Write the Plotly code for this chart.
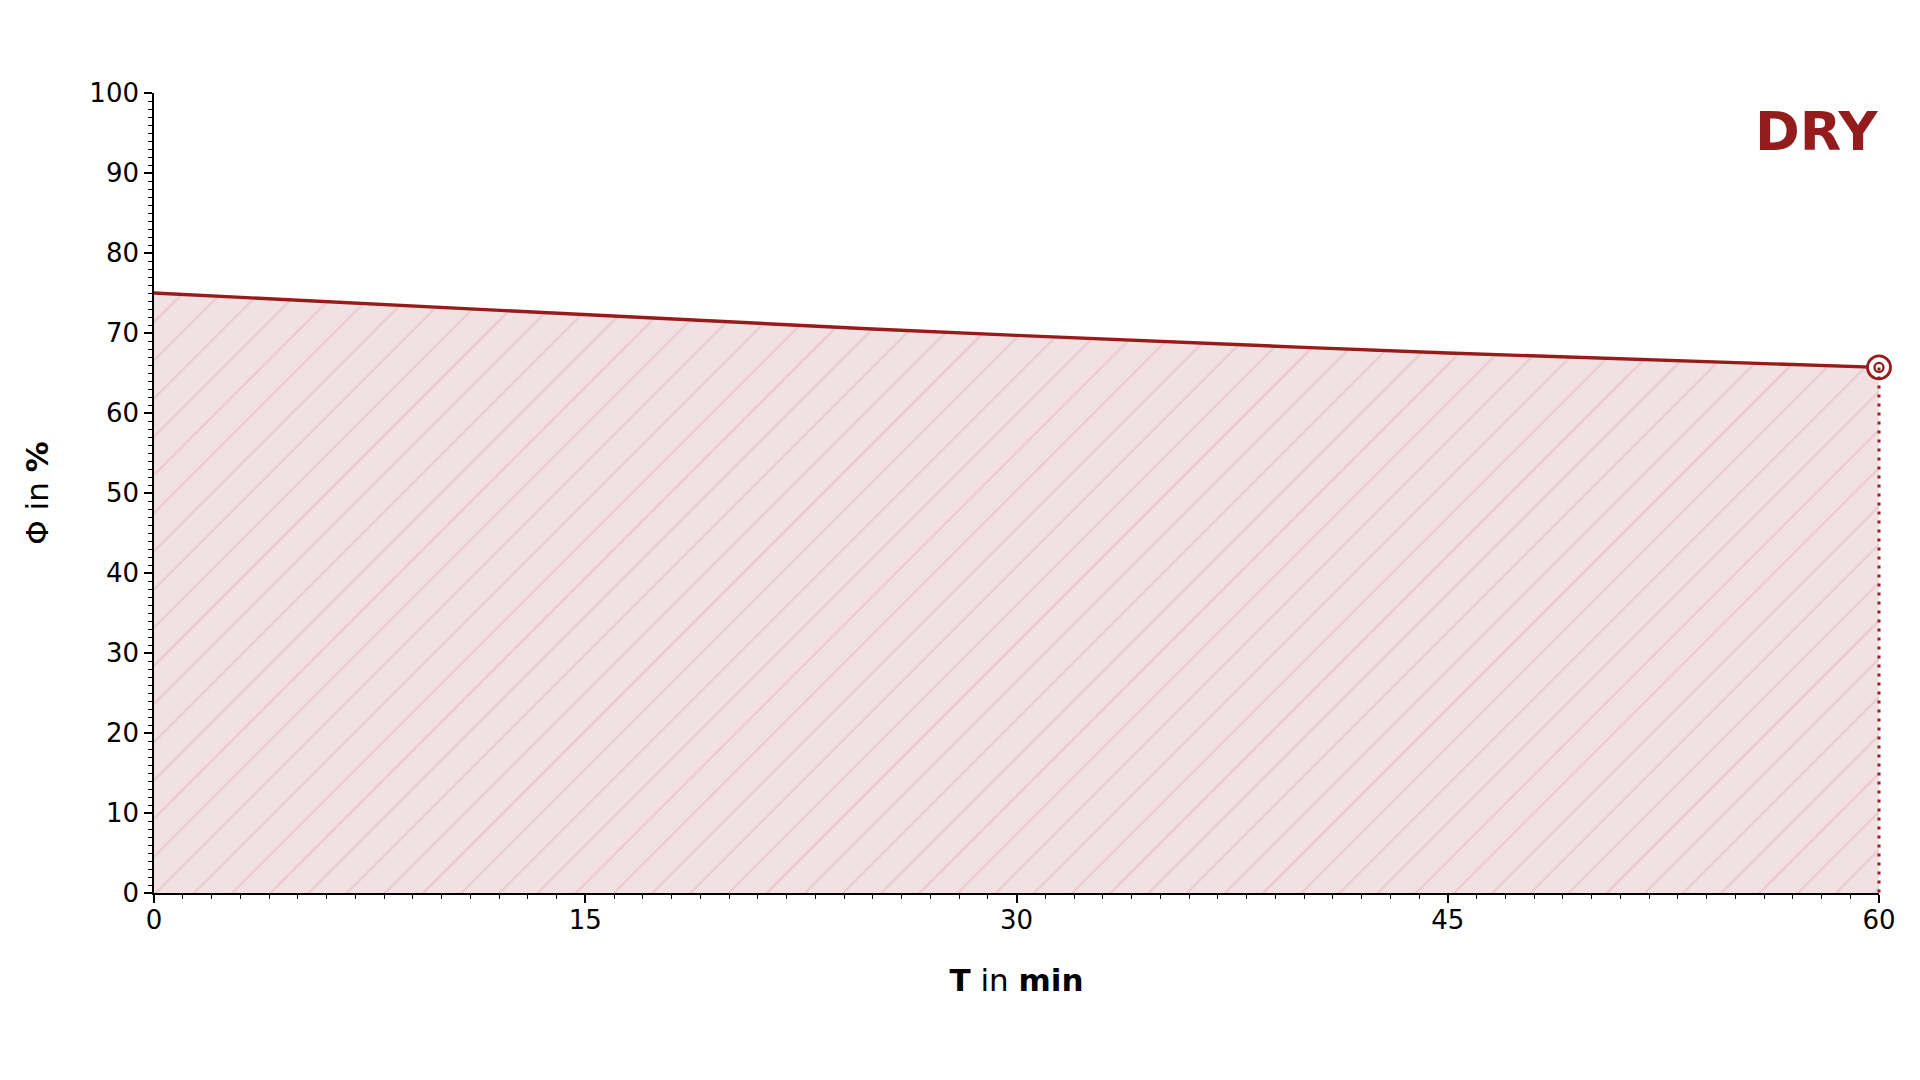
import plotly.graph_objects as go

# Data
time_min = [0, 5, 10, 15, 20, 25, 30, 35, 40, 45, 50, 55, 60]
phi_pct = [75.0, 74.1, 73.1, 72.2, 71.3, 70.5, 69.7, 68.9, 68.2, 67.5, 66.9, 66.3, 65.7]
end_time = time_min[-1]
end_value = phi_pct[-1]
x_ticks = [0, 15, 30, 45, 60]
y_ticks = [0, 10, 20, 30, 40, 50, 60, 70, 80, 90, 100]
label_text = "DRY"

RED = "#981b1b"
FONT = "DejaVu Sans"

fig = go.Figure()

fig.add_trace(go.Scatter(
    x=time_min, y=phi_pct, mode="lines",
    line=dict(color=RED, width=3.4),
    fill="tozeroy",
    fillcolor="#f2e1e3",
    fillpattern=dict(shape="/", bgcolor="#f2e1e3", fgcolor="#dfb8bc",
                     size=27, solidity=0.09),
    hoverinfo="skip", showlegend=False,
))

# dotted drop line from the end point to the axis (not clipped horizontally)
fig.add_shape(
    type="line", xref="x domain", yref="y",
    x0=end_time / time_min[-1], x1=end_time / time_min[-1],
    y0=end_value, y1=0,
    line=dict(color=RED, width=3, dash="3px,6px"),
    layer="above",
)

fig.add_trace(go.Scatter(
    x=[end_time], y=[end_value], mode="markers",
    marker=dict(symbol="circle", size=23, color="white",
                line=dict(color=RED, width=2.8)),
    showlegend=False, cliponaxis=False, hoverinfo="skip",
))
fig.add_trace(go.Scatter(
    x=[end_time], y=[end_value], mode="markers",
    marker=dict(symbol="circle-open", size=9, color=RED,
                line=dict(color=RED, width=2.3)),
    showlegend=False, cliponaxis=False, hoverinfo="skip",
))

axis_common = dict(
    showline=True, linecolor="black", linewidth=1.6,
    ticks="outside", ticklen=8, tickwidth=1.6, tickcolor="black",
    showgrid=False, zeroline=False,
    tickfont=dict(family=FONT, size=26, color="black"),
)

fig.update_xaxes(
    range=[0, 60], tickvals=x_ticks, ticktext=[str(v) for v in x_ticks],
    minor=dict(dtick=1, ticklen=4.5, tickwidth=1.3, tickcolor="black", ticks="outside"),
    ticklabelstandoff=-5,
    title=dict(text="<b>T</b> in <b>min</b>", font=dict(family=FONT, size=31, color="black"),
               standoff=35),
    **axis_common,
)
fig.update_yaxes(
    range=[0, 100], tickvals=y_ticks, ticktext=[str(v) for v in y_ticks],
    minor=dict(dtick=1, ticklen=4.5, tickwidth=1.3, tickcolor="black", ticks="outside"),
    title=dict(text="Φ in <b>%</b>", font=dict(family=FONT, size=31, color="black"),
               standoff=32),
    **axis_common,
)

fig.add_annotation(
    text=f"<b>{label_text}</b>", xref="paper", yref="paper",
    x=1, y=0.9515, xanchor="right", yanchor="middle", showarrow=False,
    xshift=1,
    font=dict(family=FONT, size=54, color="#931c1c"),
)

# page body has an 8px margin; shift margins to compensate
fig.update_layout(
    width=1920, height=1080,
    margin=dict(l=146, r=49, t=85, b=195),
    plot_bgcolor="white", paper_bgcolor="white",
)

fig.write_html("out.html")
